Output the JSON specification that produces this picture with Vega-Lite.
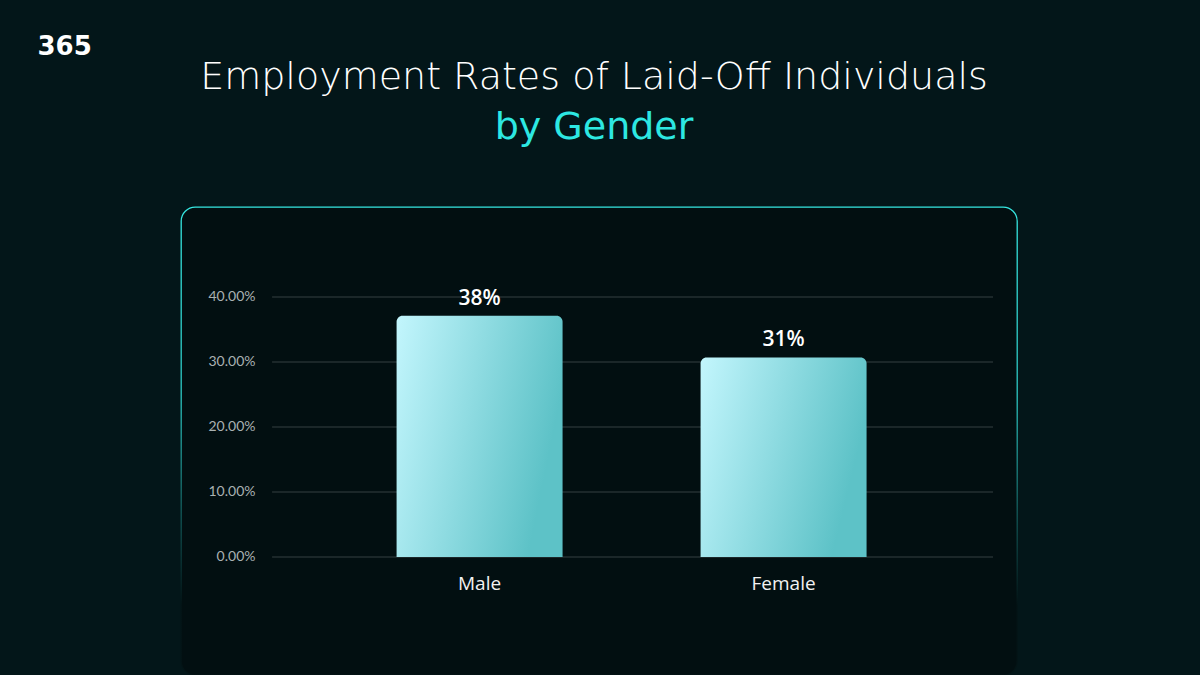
{
  "$schema": "https://vega.github.io/schema/vega-lite/v6.json",
  "autosize": "none",
  "width": 836,
  "height": 468,
  "padding": {"left": 181, "top": 207, "right": 183, "bottom": 0},
  "background": "#031619",
  "title": {
    "text": "Employment Rates of Laid-Off Individuals",
    "subtitle": "by Gender",
    "anchor": "middle",
    "dx": -5,
    "offset": -114,
    "font": "DejaVu Sans",
    "fontSize": 38,
    "fontWeight": 200,
    "color": "#ffffff",
    "subtitleFont": "DejaVu Sans",
    "subtitleFontSize": 38,
    "subtitleFontWeight": "normal",
    "subtitleColor": "#2de8e2",
    "subtitlePadding": 12
  },
  "config": {
    "view": {
      "cornerRadius": 14,
      "fill": "#020f11",
      "strokeWidth": 1.3,
      "stroke": {
        "gradient": "linear",
        "x1": 0, "y1": 0, "x2": 0, "y2": 1,
        "stops": [
          {"offset": 0, "color": "#35e6e0"},
          {"offset": 0.4, "color": "#2cc7c3"},
          {"offset": 0.65, "color": "#125a5a"},
          {"offset": 0.85, "color": "#031416"},
          {"offset": 1, "color": "#031416"}
        ]
      }
    }
  },
  "data": {
    "values": [
      {"gender": "Male", "rate": 0.371, "label": "38%"},
      {"gender": "Female", "rate": 0.307, "label": "31%"}
    ]
  },
  "encoding": {
    "x": {
      "field": "gender",
      "type": "nominal",
      "sort": ["Male", "Female"],
      "scale": {"paddingInner": 0.454, "paddingOuter": 0.602, "align": 0.589},
      "axis": {
        "title": null,
        "labelAngle": 0,
        "labelFont": "Open Sans",
        "labelFontSize": 19,
        "labelColor": "#f2f2f2",
        "labelPadding": 17,
        "domain": false,
        "ticks": false,
        "grid": false,
        "offset": -118
      }
    },
    "y": {
      "field": "rate",
      "type": "quantitative",
      "scale": {"domain": [-0.18154, 0.53846], "nice": false, "zero": false},
      "axis": {
        "title": "365",
        "titleAngle": 0,
        "titleX": -218,
        "titleY": -153,
        "titleAlign": "left",
        "titleBaseline": "alphabetic",
        "titleFont": "DejaVu Sans",
        "titleFontSize": 26,
        "titleFontWeight": "bold",
        "titleColor": "#ffffff",
        "values": [0, 0.1, 0.2, 0.3, 0.4],
        "format": ".2%",
        "labelFont": "Lato",
        "labelFontSize": 14,
        "labelColor": "#a9b1b1",
        "labelPadding": 0,
        "tickSize": 0,
        "ticks": false,
        "domain": false,
        "grid": false,
        "offset": -74
      }
    }
  },
  "layer": [
    {
      "data": {"values": [{"v": 0}, {"v": 0.1}, {"v": 0.2}, {"v": 0.3}, {"v": 0.4}]},
      "mark": {"type": "rule", "stroke": "#253132", "strokeWidth": 1.6},
      "encoding": {
        "y": {"field": "v", "type": "quantitative"},
        "x": {"datum": "Male", "bandPosition": -0.75},
        "x2": {"datum": "Female", "bandPosition": 1.762}
      }
    },
    {
      "mark": {
        "type": "bar",
        "cornerRadiusTopLeft": 6,
        "cornerRadiusTopRight": 6,
        "fill": {
          "gradient": "linear",
          "x1": 0, "y1": 0, "x2": 1, "y2": 0.3,
          "stops": [
            {"offset": 0, "color": "#c3f6fd"},
            {"offset": 1, "color": "#5dc2c7"}
          ]
        }
      },
      "encoding": {
        "y2": {"datum": 0}
      }
    },
    {
      "mark": {
        "type": "text",
        "font": "Open Sans",
        "fontSize": 21,
        "fontWeight": 600,
        "color": "#ffffff",
        "baseline": "alphabetic",
        "dy": -11
      },
      "encoding": {
        "text": {"field": "label"}
      }
    }
  ]
}
